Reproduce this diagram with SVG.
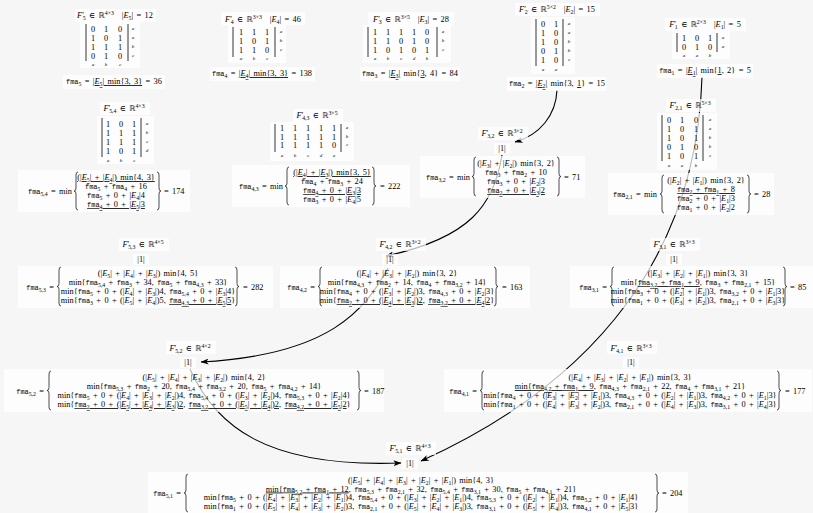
<svg xmlns="http://www.w3.org/2000/svg" width="813" height="513" viewBox="0 0 813 513">
<defs>
<style>
.bg{fill:#f6f6f6}
.bx{fill:#fff;fill-opacity:.72}
text{font-family:"Liberation Serif","DejaVu Serif",serif;font-size:8.3px;fill:#000;word-spacing:1.3px}
.c{text-anchor:middle}
.e{text-anchor:end}
.i{font-style:italic}
.t{font-family:"Liberation Mono","DejaVu Sans Mono",monospace;font-size:6.9px}
.s{font-size:5.8px;baseline-shift:-1.8px}
.p{font-size:5.8px;baseline-shift:3.2px}
.r{font-family:"DejaVu Sans",sans-serif;font-size:7.8px}
.lb{font-size:5px;font-style:italic;text-anchor:middle}
.u{text-decoration:underline;text-decoration-thickness:.8px}
.bar{stroke:#000;stroke-width:.8}
.br{fill:none;stroke:#000;stroke-width:.7}
.ed{fill:none;stroke:#000;stroke-width:1.1;marker-end:url(#ah)}
</style>
<marker id="ah" viewBox="0 0 8 6" refX="7.5" refY="3" markerWidth="8" markerHeight="6" markerUnits="userSpaceOnUse" orient="auto"><path d="M0,0 L8,3 L0,6 L2,3 z" fill="#000"/></marker>
</defs>
<rect class="bg" x="0" y="0" width="813" height="513"/>

<g id="edges">
<path class="ed" d="M702,77 C697,250 600,380 421,461"/>
<path class="ed" d="M557,90 C556,115 540,135 515,142"/>
<path class="ed" d="M502,155 C494,205 470,238 386,256"/>
<path class="ed" d="M388,268 C365,310 330,355 201,362"/>
<path class="ed" d="M190,369 C215,425 265,468 401,463"/>
</g>

<g id="n5">
<rect class="bx" x="75" y="9" width="81" height="13"/>
<text class="c" x="115" y="18"><tspan class="i">F</tspan>′<tspan class="s" dx="-1.2">5</tspan> ∈ <tspan class="r">ℝ</tspan><tspan class="p">4×3</tspan><tspan dx="8">|</tspan><tspan class="i">E</tspan><tspan class="s">5</tspan>| = 12</text>
<rect class="bx" x="80" y="22" width="60" height="46"/>
<line class="bar" x1="86" y1="24" x2="86" y2="61"/><line class="bar" x1="128" y1="24" x2="128" y2="61"/>
<text class="c" x="93 106 120" y="32">010</text>
<text class="c" x="93 106 120" y="41">101</text>
<text class="c" x="93 106 120" y="50">111</text>
<text class="c" x="93 106 120" y="59">010</text>
<text class="lb" x="133 133 133 133" y="30 39 48 57">aabc</text>
<text class="lb" x="93 106 120" y="66">abc</text>
<rect class="bx" x="63" y="75" width="102" height="14"/>
<text class="c" x="114" y="84"><tspan class="t">fma</tspan><tspan class="s">5</tspan> = <tspan class="u">|<tspan class="i">E</tspan><tspan class="s">5</tspan>| min{3, 3}</tspan> = 36</text>
</g>

<g id="n4">
<rect class="bx" x="221" y="12" width="84" height="13"/>
<text class="c" x="263" y="21.5"><tspan class="i">F</tspan>′<tspan class="s" dx="-1.2">4</tspan> ∈ <tspan class="r">ℝ</tspan><tspan class="p">3×3</tspan><tspan dx="8">|</tspan><tspan class="i">E</tspan><tspan class="s">4</tspan>| = 46</text>
<rect class="bx" x="228" y="25" width="58" height="38"/>
<line class="bar" x1="233" y1="27" x2="233" y2="57"/><line class="bar" x1="275" y1="27" x2="275" y2="57"/>
<text class="c" x="241 254 267" y="35">111</text>
<text class="c" x="241 254 267" y="44">101</text>
<text class="c" x="241 254 267" y="53">110</text>
<text class="lb" x="281 281 281" y="33 42 51">abc</text>
<text class="lb" x="241 254 267" y="60">abc</text>
<rect class="bx" x="210" y="67" width="105" height="14"/>
<text class="c" x="262" y="76"><tspan class="t">fma</tspan><tspan class="s">4</tspan> = <tspan class="u">|<tspan class="i">E</tspan><tspan class="s">4</tspan>| min{3, 3}</tspan> = 138</text>
</g>

<g id="n3">
<rect class="bx" x="368" y="12" width="86" height="13"/>
<text class="c" x="411" y="21.5"><tspan class="i">F</tspan>′<tspan class="s" dx="-1.2">3</tspan> ∈ <tspan class="r">ℝ</tspan><tspan class="p">3×5</tspan><tspan dx="8">|</tspan><tspan class="i">E</tspan><tspan class="s">3</tspan>| = 28</text>
<rect class="bx" x="363" y="25" width="88" height="38"/>
<line class="bar" x1="368" y1="27" x2="368" y2="57"/><line class="bar" x1="437" y1="27" x2="437" y2="57"/>
<text class="c" x="375 388 401 414 427" y="35">11110</text>
<text class="c" x="375 388 401 414 427" y="44">11010</text>
<text class="c" x="375 388 401 414 427" y="53">10101</text>
<text class="lb" x="443 443 443" y="33 42 51">abc</text>
<text class="lb" x="375 388 401 414 427" y="60">abcdb</text>
<rect class="bx" x="360" y="67" width="100" height="14"/>
<text class="c" x="410" y="76"><tspan class="t">fma</tspan><tspan class="s">3</tspan> = <tspan class="u">|<tspan class="i">E</tspan><tspan class="s">3</tspan>|</tspan> min{<tspan class="u">3</tspan>, 4} = 84</text>
</g>

<g id="n2">
<rect class="bx" x="515" y="3" width="85" height="13"/>
<text class="c" x="557" y="12"><tspan class="i">F</tspan>′<tspan class="s" dx="-1.2">2</tspan> ∈ <tspan class="r">ℝ</tspan><tspan class="p">5×2</tspan><tspan dx="8">|</tspan><tspan class="i">E</tspan><tspan class="s">2</tspan>| = 15</text>
<rect class="bx" x="531" y="17" width="44" height="57"/>
<line class="bar" x1="536" y1="19" x2="536" y2="66"/><line class="bar" x1="563" y1="19" x2="563" y2="66"/>
<text class="c" x="543 556" y="27">01</text>
<text class="c" x="543 556" y="36">10</text>
<text class="c" x="543 556" y="45">10</text>
<text class="c" x="543 556" y="54">01</text>
<text class="c" x="543 556" y="63">10</text>
<text class="lb" x="569 569 569 569 569" y="25 34 43 52 61">aabbc</text>
<text class="lb" x="543 556" y="71">aa</text>
<rect class="bx" x="507" y="77" width="100" height="14"/>
<text class="c" x="557" y="86"><tspan class="t">fma</tspan><tspan class="s">2</tspan> = <tspan class="u">|<tspan class="i">E</tspan><tspan class="s">2</tspan>|</tspan> min{3, <tspan class="u">1</tspan>} = 15</text>
</g>

<g id="n1">
<rect class="bx" x="665" y="18" width="81" height="13"/>
<text class="c" x="705" y="27"><tspan class="i">F</tspan>′<tspan class="s" dx="-1.2">1</tspan> ∈ <tspan class="r">ℝ</tspan><tspan class="p">2×3</tspan><tspan dx="8">|</tspan><tspan class="i">E</tspan><tspan class="s">1</tspan>| = 5</text>
<rect class="bx" x="672" y="31" width="58" height="28"/>
<line class="bar" x1="677" y1="33" x2="677" y2="52"/><line class="bar" x1="717" y1="33" x2="717" y2="52"/>
<text class="c" x="684 697 710" y="41">101</text>
<text class="c" x="684 697 710" y="50">010</text>
<text class="lb" x="723 723" y="39 48">aa</text>
<text class="lb" x="684 697 710" y="57">aab</text>
<rect class="bx" x="657" y="64" width="96" height="14"/>
<text class="c" x="705" y="73"><tspan class="t">fma</tspan><tspan class="s">1</tspan> = <tspan class="u">|<tspan class="i">E</tspan><tspan class="s">1</tspan>|</tspan> min{<tspan class="u">1</tspan>, 2} = 5</text>
</g>

<g id="n54">
<rect class="bx" x="100" y="102" width="50" height="13"/>
<text class="c" x="124" y="111"><tspan class="i">F</tspan>′<tspan class="s" dx="-1.2">5,4</tspan> ∈ <tspan class="r">ℝ</tspan><tspan class="p">4×3</tspan></text>
<rect class="bx" x="97" y="116" width="57" height="48"/>
<line class="bar" x1="102" y1="118" x2="102" y2="157"/><line class="bar" x1="141" y1="118" x2="141" y2="157"/>
<text class="c" x="108 121 134" y="127">101</text>
<text class="c" x="108 121 134" y="136">111</text>
<text class="c" x="108 121 134" y="145">111</text>
<text class="c" x="108 121 134" y="154">101</text>
<text class="lb" x="147 147 147 147" y="125 134 143 152">abcd</text>
<text class="lb" x="108 121 134" y="161.5">abc</text>
<rect class="bx" x="18" y="170" width="172" height="42"/>
<text class="e" x="72" y="193.5"><tspan class="t">fma</tspan><tspan class="s">5,4</tspan> = min</text>
<path class="br" d="M78,172Q76,172 76,175L76,188Q76,191 74,191Q76,191 76,194L76,207Q76,210 78,210"/>
<text class="c" x="116" y="180"><tspan class="u">(|<tspan class="i">E</tspan><tspan class="s">5</tspan>| + |<tspan class="i">E</tspan><tspan class="s">4</tspan>|) min{4, 3}</tspan></text>
<text class="c" x="116" y="189"><tspan class="t">fma</tspan><tspan class="s">5</tspan> + <tspan class="t">fma</tspan><tspan class="s">4</tspan> + 16</text>
<text class="c" x="116" y="198"><tspan class="t">fma</tspan><tspan class="s">5</tspan> + 0 + |<tspan class="i">E</tspan><tspan class="s">4</tspan>|4</text>
<text class="c" x="116" y="207"><tspan class="u"><tspan class="t">fma</tspan><tspan class="s">4</tspan> + 0 + |<tspan class="i">E</tspan><tspan class="s">5</tspan>|3</tspan></text>
<path class="br" d="M157,172Q159,172 159,175L159,188Q159,191 161,191Q159,191 159,194L159,207Q159,210 157,210"/>
<text x="164" y="193.5">= 174</text>
</g>

<g id="n43">
<rect class="bx" x="293" y="109" width="50" height="13"/>
<text class="c" x="317" y="118"><tspan class="i">F</tspan>′<tspan class="s" dx="-1.2">4,3</tspan> ∈ <tspan class="r">ℝ</tspan><tspan class="p">3×5</tspan></text>
<rect class="bx" x="270" y="122" width="84" height="39"/>
<line class="bar" x1="275" y1="124" x2="275" y2="152"/><line class="bar" x1="341" y1="124" x2="341" y2="152"/>
<text class="c" x="282 295 308 321 334" y="131">11111</text>
<text class="c" x="282 295 308 321 334" y="139.5">11111</text>
<text class="c" x="282 295 308 321 334" y="148">11110</text>
<text class="lb" x="347 347 347" y="129 137.5 146">abc</text>
<text class="lb" x="282 295 308 321 334" y="157">abcde</text>
<rect class="bx" x="232" y="165" width="178" height="42"/>
<text class="e" x="283" y="188.5"><tspan class="t">fma</tspan><tspan class="s">4,3</tspan> = min</text>
<path class="br" d="M289,167Q287,167 287,170L287,183Q287,186 285,186Q287,186 287,189L287,202Q287,205 289,205"/>
<text class="c" x="332" y="175"><tspan class="u">(|<tspan class="i">E</tspan><tspan class="s">4</tspan>| + |<tspan class="i">E</tspan><tspan class="s">3</tspan>|) min{3, 5}</tspan></text>
<text class="c" x="332" y="184"><tspan class="t">fma</tspan><tspan class="s">4</tspan> + <tspan class="t">fma</tspan><tspan class="s">3</tspan> + 24</text>
<text class="c" x="332" y="193"><tspan class="u"><tspan class="t">fma</tspan><tspan class="s">4</tspan> + 0 + |<tspan class="i">E</tspan><tspan class="s">3</tspan>|3</tspan></text>
<text class="c" x="332" y="202"><tspan class="t">fma</tspan><tspan class="s">3</tspan> + 0 + |<tspan class="i">E</tspan><tspan class="s">4</tspan>|5</text>
<path class="br" d="M372,167Q374,167 374,170L374,183Q374,186 376,186Q374,186 374,189L374,202Q374,205 372,205"/>
<text x="380" y="188.5">= 222</text>
</g>

<g id="n32">
<rect class="bx" x="478" y="127" width="50" height="13"/>
<text class="c" x="502" y="136"><tspan class="i">F</tspan>′<tspan class="s" dx="-1.2">3,2</tspan> ∈ <tspan class="r">ℝ</tspan><tspan class="p">3×2</tspan></text>
<rect class="bx" x="494" y="143" width="16" height="11"/>
<text class="c" x="502" y="151">|1|</text>
<rect class="bx" x="420" y="156" width="165" height="42"/>
<text class="e" x="470" y="179.5"><tspan class="t">fma</tspan><tspan class="s">3,2</tspan> = min</text>
<path class="br" d="M476,157Q474,157 474,160L474,173.5Q474,176.5 472,176.5Q474,176.5 474,179.5L474,193Q474,196 476,196"/>
<text class="c" x="516" y="166">(|<tspan class="i">E</tspan><tspan class="s">3</tspan>| + |<tspan class="i">E</tspan><tspan class="s">2</tspan>|) min{3, 2}</text>
<text class="c" x="516" y="175"><tspan class="t">fma</tspan><tspan class="s">3</tspan> + <tspan class="t">fma</tspan><tspan class="s">2</tspan> + 10</text>
<text class="c" x="516" y="184"><tspan class="t">fma</tspan><tspan class="s">3</tspan> + 0 + |<tspan class="i">E</tspan><tspan class="s">2</tspan>|3</text>
<text class="c" x="516" y="193"><tspan class="u"><tspan class="t">fma</tspan><tspan class="s">2</tspan> + 0 + |<tspan class="i">E</tspan><tspan class="s">3</tspan>|2</tspan></text>
<path class="br" d="M557,157Q559,157 559,160L559,173.5Q559,176.5 561,176.5Q559,176.5 559,179.5L559,193Q559,196 557,196"/>
<text x="564" y="179.5">= 71</text>
</g>

<g id="n21">
<rect class="bx" x="666" y="99" width="50" height="13"/>
<text class="c" x="690" y="108"><tspan class="i">F</tspan>′<tspan class="s" dx="-1.2">2,1</tspan> ∈ <tspan class="r">ℝ</tspan><tspan class="p">5×3</tspan></text>
<rect class="bx" x="657" y="113" width="60" height="57"/>
<line class="bar" x1="662" y1="115" x2="662" y2="161"/><line class="bar" x1="703" y1="115" x2="703" y2="161"/>
<text class="c" x="669 682 696" y="123">010</text>
<text class="c" x="669 682 696" y="132">101</text>
<text class="c" x="669 682 696" y="141">101</text>
<text class="c" x="669 682 696" y="150">010</text>
<text class="c" x="669 682 696" y="159">101</text>
<text class="lb" x="710 710 710 710 710" y="121 130 139 148 157">aabbc</text>
<text class="lb" x="669 682 696" y="166.5">aab</text>
<rect class="bx" x="608" y="173" width="166" height="42"/>
<text class="e" x="657" y="196.5"><tspan class="t">fma</tspan><tspan class="s">2,1</tspan> = min</text>
<path class="br" d="M664,175Q662,175 662,178L662,191Q662,194 660,194Q662,194 662,197L662,210Q662,213 664,213"/>
<text class="c" x="706" y="183">(|<tspan class="i">E</tspan><tspan class="s">2</tspan>| + |<tspan class="i">E</tspan><tspan class="s">1</tspan>|) min{3, 2}</text>
<text class="c" x="706" y="192"><tspan class="u"><tspan class="t">fma</tspan><tspan class="s">2</tspan> + <tspan class="t">fma</tspan><tspan class="s">1</tspan> + 8</tspan></text>
<text class="c" x="706" y="201"><tspan class="t">fma</tspan><tspan class="s">2</tspan> + 0 + |<tspan class="i">E</tspan><tspan class="s">1</tspan>|3</text>
<text class="c" x="706" y="210"><tspan class="t">fma</tspan><tspan class="s">1</tspan> + 0 + |<tspan class="i">E</tspan><tspan class="s">2</tspan>|2</text>
<path class="br" d="M747,175Q749,175 749,178L749,191Q749,194 751,194Q749,194 749,197L749,210Q749,213 747,213"/>
<text x="754" y="196.5">= 28</text>
</g>

<g id="n53">
<rect class="bx" x="119" y="238" width="50" height="13"/>
<text class="c" x="143" y="247"><tspan class="i">F</tspan>′<tspan class="s" dx="-1.2">5,3</tspan> ∈ <tspan class="r">ℝ</tspan><tspan class="p">4×5</tspan></text>
<rect class="bx" x="133" y="254" width="16" height="11"/>
<text class="c" x="141" y="262">|1|</text>
<rect class="bx" x="18" y="266" width="255" height="42"/>
<text class="e" x="54" y="289.5"><tspan class="t">fma</tspan><tspan class="s">5,3</tspan> =</text>
<path class="br" d="M61,267Q59,267 59,270L59,283.5Q59,286.5 57,286.5Q59,286.5 59,289.5L59,303Q59,306 61,306"/>
<text class="c" x="148" y="276">(|<tspan class="i">E</tspan><tspan class="s">5</tspan>| + |<tspan class="i">E</tspan><tspan class="s">4</tspan>| + |<tspan class="i">E</tspan><tspan class="s">3</tspan>|) min{4, 5}</text>
<text class="c" x="148" y="285">min{<tspan class="t">fma</tspan><tspan class="s">5,4</tspan> + <tspan class="t">fma</tspan><tspan class="s">3</tspan> + 34, <tspan class="t">fma</tspan><tspan class="s">5</tspan> + <tspan class="t">fma</tspan><tspan class="s">4,3</tspan> + 33}</text>
<text class="c" x="148" y="294">min{<tspan class="t">fma</tspan><tspan class="s">5</tspan> + 0 + (|<tspan class="i">E</tspan><tspan class="s">4</tspan>| + |<tspan class="i">E</tspan><tspan class="s">3</tspan>|)4, <tspan class="t">fma</tspan><tspan class="s">5,4</tspan> + 0 + |<tspan class="i">E</tspan><tspan class="s">3</tspan>|4}</text>
<text class="c" x="148" y="303">min{<tspan class="t">fma</tspan><tspan class="s">3</tspan> + 0 + (|<tspan class="i">E</tspan><tspan class="s">5</tspan>| + |<tspan class="i">E</tspan><tspan class="s">4</tspan>|)5, <tspan class="u"><tspan class="t">fma</tspan><tspan class="s">4,3</tspan> + 0 + |<tspan class="i">E</tspan><tspan class="s">5</tspan>|5</tspan>}</text>
<path class="br" d="M235,267Q237,267 237,270L237,283.5Q237,286.5 239,286.5Q237,286.5 237,289.5L237,303Q237,306 235,306"/>
<text x="243" y="289.5">= 282</text>
</g>

<g id="n42">
<rect class="bx" x="376" y="238" width="50" height="13"/>
<text class="c" x="400" y="247"><tspan class="i">F</tspan>′<tspan class="s" dx="-1.2">4,2</tspan> ∈ <tspan class="r">ℝ</tspan><tspan class="p">3×2</tspan></text>
<rect class="bx" x="382" y="254" width="16" height="11"/>
<text class="c" x="390" y="262">|1|</text>
<rect class="bx" x="280" y="266" width="250" height="42"/>
<text class="e" x="315" y="289.5"><tspan class="t">fma</tspan><tspan class="s">4,2</tspan> =</text>
<path class="br" d="M322,267Q320,267 320,270L320,283.5Q320,286.5 318,286.5Q320,286.5 320,289.5L320,303Q320,306 322,306"/>
<text class="c" x="407" y="276">(|<tspan class="i">E</tspan><tspan class="s">4</tspan>| + |<tspan class="i">E</tspan><tspan class="s">3</tspan>| + |<tspan class="i">E</tspan><tspan class="s">2</tspan>|) min{3, 2}</text>
<text class="c" x="407" y="285">min{<tspan class="t">fma</tspan><tspan class="s">4,3</tspan> + <tspan class="t">fma</tspan><tspan class="s">2</tspan> + 14, <tspan class="t">fma</tspan><tspan class="s">4</tspan> + <tspan class="t">fma</tspan><tspan class="s">3,2</tspan> + 14}</text>
<text class="c" x="407" y="294">min{<tspan class="t">fma</tspan><tspan class="s">4</tspan> + 0 + (|<tspan class="i">E</tspan><tspan class="s">3</tspan>| + |<tspan class="i">E</tspan><tspan class="s">2</tspan>|)3, <tspan class="t">fma</tspan><tspan class="s">4,3</tspan> + 0 + |<tspan class="i">E</tspan><tspan class="s">2</tspan>|3}</text>
<text class="c" x="407" y="303">min{<tspan class="u"><tspan class="t">fma</tspan><tspan class="s">2</tspan> + 0 + (|<tspan class="i">E</tspan><tspan class="s">4</tspan>| + |<tspan class="i">E</tspan><tspan class="s">3</tspan>|)2</tspan>, <tspan class="u"><tspan class="t">fma</tspan><tspan class="s">3,2</tspan> + 0 + |<tspan class="i">E</tspan><tspan class="s">4</tspan>|2</tspan>}</text>
<path class="br" d="M494,267Q496,267 496,270L496,283.5Q496,286.5 498,286.5Q496,286.5 496,289.5L496,303Q496,306 494,306"/>
<text x="502" y="289.5">= 163</text>
</g>

<g id="n31">
<rect class="bx" x="650" y="238" width="50" height="13"/>
<text class="c" x="674" y="247"><tspan class="i">F</tspan>′<tspan class="s" dx="-1.2">3,1</tspan> ∈ <tspan class="r">ℝ</tspan><tspan class="p">3×3</tspan></text>
<rect class="bx" x="666" y="254" width="16" height="11"/>
<text class="c" x="674" y="262">|1|</text>
<rect class="bx" x="570" y="266" width="243" height="42"/>
<text class="e" x="607" y="289.5"><tspan class="t">fma</tspan><tspan class="s">3,1</tspan> =</text>
<path class="br" d="M614,267Q612,267 612,270L612,283.5Q612,286.5 610,286.5Q612,286.5 612,289.5L612,303Q612,306 614,306"/>
<text class="c" x="698" y="276">(|<tspan class="i">E</tspan><tspan class="s">3</tspan>| + |<tspan class="i">E</tspan><tspan class="s">2</tspan>| + |<tspan class="i">E</tspan><tspan class="s">1</tspan>|) min{3, 3}</text>
<text class="c" x="698" y="285">min{<tspan class="u"><tspan class="t">fma</tspan><tspan class="s">3,2</tspan> + <tspan class="t">fma</tspan><tspan class="s">1</tspan> + 9</tspan>, <tspan class="t">fma</tspan><tspan class="s">3</tspan> + <tspan class="t">fma</tspan><tspan class="s">2,1</tspan> + 15}</text>
<text class="c" x="698" y="294">min{<tspan class="t">fma</tspan><tspan class="s">3</tspan> + 0 + (|<tspan class="i">E</tspan><tspan class="s">2</tspan>| + |<tspan class="i">E</tspan><tspan class="s">1</tspan>|)3, <tspan class="t">fma</tspan><tspan class="s">3,2</tspan> + 0 + |<tspan class="i">E</tspan><tspan class="s">1</tspan>|3}</text>
<text class="c" x="698" y="303">min{<tspan class="t">fma</tspan><tspan class="s">1</tspan> + 0 + (|<tspan class="i">E</tspan><tspan class="s">3</tspan>| + |<tspan class="i">E</tspan><tspan class="s">2</tspan>|)3, <tspan class="t">fma</tspan><tspan class="s">2,1</tspan> + 0 + |<tspan class="i">E</tspan><tspan class="s">3</tspan>|3}</text>
<path class="br" d="M783,267Q785,267 785,270L785,283.5Q785,286.5 787,286.5Q785,286.5 785,289.5L785,303Q785,306 783,306"/>
<text x="790" y="289.5">= 85</text>
</g>

<g id="n52">
<rect class="bx" x="166" y="341" width="50" height="13"/>
<text class="c" x="190" y="350.5"><tspan class="i">F</tspan>′<tspan class="s" dx="-1.2">5,2</tspan> ∈ <tspan class="r">ℝ</tspan><tspan class="p">4×2</tspan></text>
<rect class="bx" x="180" y="357" width="16" height="11"/>
<text class="c" x="188" y="365">|1|</text>
<rect class="bx" x="4" y="369" width="380" height="43"/>
<text class="e" x="44" y="393.5"><tspan class="t">fma</tspan><tspan class="s">5,2</tspan> =</text>
<path class="br" d="M51,371Q49,371 49,374L49,387.5Q49,390.5 47,390.5Q49,390.5 49,393.5L49,407Q49,410 51,410"/>
<text class="c" x="204" y="380">(|<tspan class="i">E</tspan><tspan class="s">5</tspan>| + |<tspan class="i">E</tspan><tspan class="s">4</tspan>| + |<tspan class="i">E</tspan><tspan class="s">3</tspan>| + |<tspan class="i">E</tspan><tspan class="s">2</tspan>|) min{4, 2}</text>
<text class="c" x="204" y="389">min{<tspan class="t">fma</tspan><tspan class="s">5,3</tspan> + <tspan class="t">fma</tspan><tspan class="s">2</tspan> + 20, <tspan class="t">fma</tspan><tspan class="s">5,4</tspan> + <tspan class="t">fma</tspan><tspan class="s">3,2</tspan> + 20, <tspan class="t">fma</tspan><tspan class="s">5</tspan> + <tspan class="t">fma</tspan><tspan class="s">4,2</tspan> + 14}</text>
<text class="c" x="204" y="398">min{<tspan class="t">fma</tspan><tspan class="s">5</tspan> + 0 + (|<tspan class="i">E</tspan><tspan class="s">4</tspan>| + |<tspan class="i">E</tspan><tspan class="s">3</tspan>| + |<tspan class="i">E</tspan><tspan class="s">2</tspan>|)4, <tspan class="t">fma</tspan><tspan class="s">5,4</tspan> + 0 + (|<tspan class="i">E</tspan><tspan class="s">3</tspan>| + |<tspan class="i">E</tspan><tspan class="s">2</tspan>|)4, <tspan class="t">fma</tspan><tspan class="s">5,3</tspan> + 0 + |<tspan class="i">E</tspan><tspan class="s">2</tspan>|4}</text>
<text class="c" x="204" y="407">min{<tspan class="u"><tspan class="t">fma</tspan><tspan class="s">2</tspan> + 0 + (|<tspan class="i">E</tspan><tspan class="s">5</tspan>| + |<tspan class="i">E</tspan><tspan class="s">4</tspan>| + |<tspan class="i">E</tspan><tspan class="s">3</tspan>|)2</tspan>, <tspan class="u"><tspan class="t">fma</tspan><tspan class="s">3,2</tspan> + 0 + (|<tspan class="i">E</tspan><tspan class="s">5</tspan>| + |<tspan class="i">E</tspan><tspan class="s">4</tspan>|)2</tspan>, <tspan class="u"><tspan class="t">fma</tspan><tspan class="s">4,2</tspan> + 0 + |<tspan class="i">E</tspan><tspan class="s">5</tspan>|2</tspan>}</text>
<path class="br" d="M357,371Q359,371 359,374L359,387.5Q359,390.5 361,390.5Q359,390.5 359,393.5L359,407Q359,410 357,410"/>
<text x="364" y="393.5">= 187</text>
</g>

<g id="n41">
<rect class="bx" x="607" y="341" width="50" height="13"/>
<text class="c" x="631" y="350.5"><tspan class="i">F</tspan>′<tspan class="s" dx="-1.2">4,1</tspan> ∈ <tspan class="r">ℝ</tspan><tspan class="p">3×3</tspan></text>
<rect class="bx" x="623" y="357" width="16" height="11"/>
<text class="c" x="631" y="365">|1|</text>
<rect class="bx" x="444" y="369" width="368" height="43"/>
<text class="e" x="477" y="393.5"><tspan class="t">fma</tspan><tspan class="s">4,1</tspan> =</text>
<path class="br" d="M484,371Q482,371 482,374L482,387.5Q482,390.5 480,390.5Q482,390.5 482,393.5L482,407Q482,410 484,410"/>
<text class="c" x="630" y="380">(|<tspan class="i">E</tspan><tspan class="s">4</tspan>| + |<tspan class="i">E</tspan><tspan class="s">3</tspan>| + |<tspan class="i">E</tspan><tspan class="s">2</tspan>| + |<tspan class="i">E</tspan><tspan class="s">1</tspan>|) min{3, 3}</text>
<text class="c" x="630" y="389"><tspan class="u">min{<tspan class="t">fma</tspan><tspan class="s">4,2</tspan> + <tspan class="t">fma</tspan><tspan class="s">1</tspan> + 9</tspan>, <tspan class="t">fma</tspan><tspan class="s">4,3</tspan> + <tspan class="t">fma</tspan><tspan class="s">2,1</tspan> + 22, <tspan class="t">fma</tspan><tspan class="s">4</tspan> + <tspan class="t">fma</tspan><tspan class="s">3,1</tspan> + 21}</text>
<text class="c" x="630" y="398">min{<tspan class="t">fma</tspan><tspan class="s">4</tspan> + 0 + (|<tspan class="i">E</tspan><tspan class="s">3</tspan>| + |<tspan class="i">E</tspan><tspan class="s">2</tspan>| + |<tspan class="i">E</tspan><tspan class="s">1</tspan>|)3, <tspan class="t">fma</tspan><tspan class="s">4,3</tspan> + 0 + (|<tspan class="i">E</tspan><tspan class="s">2</tspan>| + |<tspan class="i">E</tspan><tspan class="s">1</tspan>|)3, <tspan class="t">fma</tspan><tspan class="s">4,2</tspan> + 0 + |<tspan class="i">E</tspan><tspan class="s">1</tspan>|3}</text>
<text class="c" x="630" y="407">min{<tspan class="t">fma</tspan><tspan class="s">1</tspan> + 0 + (|<tspan class="i">E</tspan><tspan class="s">4</tspan>| + |<tspan class="i">E</tspan><tspan class="s">3</tspan>| + |<tspan class="i">E</tspan><tspan class="s">2</tspan>|)3, <tspan class="t">fma</tspan><tspan class="s">2,1</tspan> + 0 + (|<tspan class="i">E</tspan><tspan class="s">4</tspan>| + |<tspan class="i">E</tspan><tspan class="s">3</tspan>|)3, <tspan class="t">fma</tspan><tspan class="s">3,1</tspan> + 0 + |<tspan class="i">E</tspan><tspan class="s">4</tspan>|3}</text>
<path class="br" d="M777,371Q779,371 779,374L779,387.5Q779,390.5 781,390.5Q779,390.5 779,393.5L779,407Q779,410 777,410"/>
<text x="785" y="393.5">= 177</text>
</g>

<g id="n51">
<rect class="bx" x="386" y="442" width="50" height="13"/>
<text class="c" x="410" y="451"><tspan class="i">F</tspan>′<tspan class="s" dx="-1.2">5,1</tspan> ∈ <tspan class="r">ℝ</tspan><tspan class="p">4×3</tspan></text>
<rect class="bx" x="402" y="458" width="16" height="11"/>
<text class="c" x="410" y="466">|1|</text>
<rect class="bx" x="148" y="472" width="540" height="41"/>
<text class="e" x="181" y="496"><tspan class="t">fma</tspan><tspan class="s">5,1</tspan> =</text>
<path class="br" d="M188,474Q186,474 186,477L186,490Q186,493 184,493Q186,493 186,496L186,509Q186,512 188,512"/>
<text class="c" x="421" y="483">(|<tspan class="i">E</tspan><tspan class="s">5</tspan>| + |<tspan class="i">E</tspan><tspan class="s">4</tspan>| + |<tspan class="i">E</tspan><tspan class="s">3</tspan>| + |<tspan class="i">E</tspan><tspan class="s">2</tspan>| + |<tspan class="i">E</tspan><tspan class="s">1</tspan>|) min{4, 3}</text>
<text class="c" x="421" y="491.5"><tspan class="u">min{<tspan class="t">fma</tspan><tspan class="s">5,2</tspan> + <tspan class="t">fma</tspan><tspan class="s">1</tspan> + 12</tspan>, <tspan class="t">fma</tspan><tspan class="s">5,3</tspan> + <tspan class="t">fma</tspan><tspan class="s">2,1</tspan> + 32, <tspan class="t">fma</tspan><tspan class="s">5,4</tspan> + <tspan class="t">fma</tspan><tspan class="s">3,1</tspan> + 30, <tspan class="t">fma</tspan><tspan class="s">5</tspan> + <tspan class="t">fma</tspan><tspan class="s">4,1</tspan> + 21}</text>
<text class="c" x="421" y="500">min{<tspan class="t">fma</tspan><tspan class="s">5</tspan> + 0 + (|<tspan class="i">E</tspan><tspan class="s">4</tspan>| + |<tspan class="i">E</tspan><tspan class="s">3</tspan>| + |<tspan class="i">E</tspan><tspan class="s">2</tspan>| + |<tspan class="i">E</tspan><tspan class="s">1</tspan>|)4, <tspan class="t">fma</tspan><tspan class="s">5,4</tspan> + 0 + (|<tspan class="i">E</tspan><tspan class="s">3</tspan>| + |<tspan class="i">E</tspan><tspan class="s">2</tspan>| + |<tspan class="i">E</tspan><tspan class="s">1</tspan>|)4, <tspan class="t">fma</tspan><tspan class="s">5,3</tspan> + 0 + (|<tspan class="i">E</tspan><tspan class="s">2</tspan>| + |<tspan class="i">E</tspan><tspan class="s">1</tspan>|)4, <tspan class="t">fma</tspan><tspan class="s">5,2</tspan> + 0 + |<tspan class="i">E</tspan><tspan class="s">1</tspan>|4}</text>
<text class="c" x="421" y="508.5">min{<tspan class="t">fma</tspan><tspan class="s">1</tspan> + 0 + (|<tspan class="i">E</tspan><tspan class="s">5</tspan>| + |<tspan class="i">E</tspan><tspan class="s">4</tspan>| + |<tspan class="i">E</tspan><tspan class="s">3</tspan>| + |<tspan class="i">E</tspan><tspan class="s">2</tspan>|)3, <tspan class="t">fma</tspan><tspan class="s">2,1</tspan> + 0 + (|<tspan class="i">E</tspan><tspan class="s">5</tspan>| + |<tspan class="i">E</tspan><tspan class="s">4</tspan>| + |<tspan class="i">E</tspan><tspan class="s">3</tspan>|)3, <tspan class="t">fma</tspan><tspan class="s">3,1</tspan> + 0 + (|<tspan class="i">E</tspan><tspan class="s">5</tspan>| + |<tspan class="i">E</tspan><tspan class="s">4</tspan>|)3, <tspan class="t">fma</tspan><tspan class="s">4,1</tspan> + 0 + |<tspan class="i">E</tspan><tspan class="s">5</tspan>|3}</text>
<path class="br" d="M655,474Q657,474 657,477L657,490Q657,493 659,493Q657,493 657,496L657,509Q657,512 655,512"/>
<text x="662" y="496">= 204</text>
</g>
</svg>
